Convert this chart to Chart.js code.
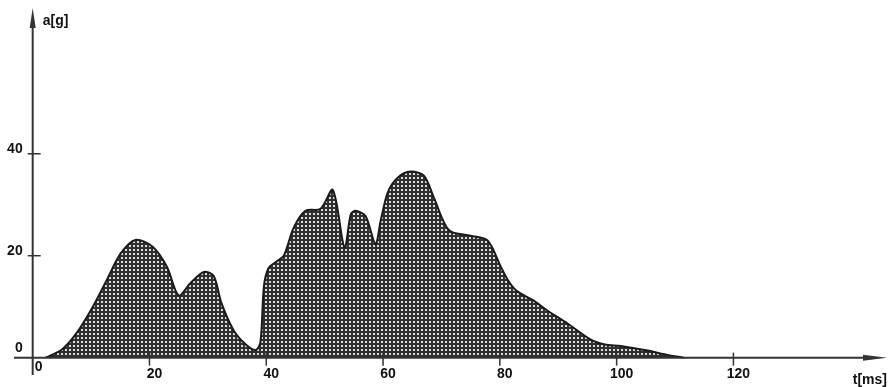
<!DOCTYPE html>
<html>
<head>
<meta charset="utf-8">
<script src="https://cdn.jsdelivr.net/npm/chart.js@4.4.0/dist/chart.umd.min.js"></script>
<style>
  html, body { margin: 0; padding: 0; background: #fff; }
  #wrap { width: 891px; height: 387px; }
</style>
</head>
<body>
<div id="wrap"><canvas id="chart"></canvas></div>
<script>
// ===== Data =====
const timeMs = [2.2, 5, 7.5, 10.4, 12.8, 15.1, 17.6, 20.5, 23, 25, 27, 29.3, 31, 32.3, 34.4, 36.5, 38.2,
  39.0, 39.6, 40.4, 41.8, 43, 44.7, 46.7, 49.3, 51.4, 53.4, 54.5, 55.3, 57, 58.7, 59.6, 60.8, 62.5, 64.7, 67,
  68.7, 71.3, 75, 77.9, 80.1, 81.5, 83, 85.8, 88.2, 91.6, 95.5, 98, 100.7, 105.3, 108.5, 111.5];
const accelG = [0, 1.6, 4.8, 10.2, 15.5, 20.5, 23.1, 21.8, 17.8, 12.2, 14.6, 16.8, 16, 10.8, 5.4, 2.6, 1.5,
  3, 14, 17.6, 18.9, 20, 25.5, 28.8, 29.2, 32.9, 21.6, 28.2, 28.8, 27.8, 22.3, 26.9, 32.4, 35.3, 36.5, 35.7,
  31.4, 25, 23.9, 23, 18, 15, 13, 11.2, 9.2, 6.7, 3.6, 2.6, 2.3, 1.4, 0.6, 0];
const xTicks = [20, 40, 60, 80, 100, 120];
const yTicks = [0, 20, 40];

const points = timeMs.map((t, i) => ({ x: t, y: accelG[i] }));

// ===== Crosshatch fill =====
function hatchPattern() {
  const c = document.createElement("canvas");
  c.width = 4; c.height = 4;
  const g = c.getContext("2d");
  g.fillStyle = "#303030";
  g.fillRect(0, 0, 4, 4);
  g.fillStyle = "#dcdcdc";
  g.fillRect(1, 1, 2, 2);
  return g.createPattern(c, "repeat");
}

const FONT = "bold 14px 'Liberation Sans', Arial, sans-serif";

// ===== Hand-drawn style axes =====
const axesPlugin = {
  id: "handAxes",
  afterDatasetsDraw(chart) {
    const { ctx, chartArea, scales: { x, y } } = chart;
    const x0 = x.getPixelForValue(0);
    const y0 = y.getPixelForValue(0);
    ctx.save();
    ctx.strokeStyle = "#333";
    ctx.fillStyle = "#333";
    ctx.lineWidth = 2;

    // x axis + arrow
    ctx.beginPath();
    ctx.moveTo(chartArea.left, y0);
    ctx.lineTo(chartArea.right - 20, y0);
    ctx.stroke();
    ctx.beginPath();
    ctx.moveTo(chartArea.right, y0);
    ctx.lineTo(chartArea.right - 24, y0 - 3);
    ctx.lineTo(chartArea.right - 24, y0 + 3);
    ctx.closePath();
    ctx.fill();

    // y axis + arrow
    ctx.beginPath();
    ctx.moveTo(x0, chartArea.bottom);
    ctx.lineTo(x0, chartArea.top + 14);
    ctx.stroke();
    ctx.beginPath();
    ctx.moveTo(x0, chartArea.top - 2);
    ctx.lineTo(x0 - 3, chartArea.top + 18);
    ctx.lineTo(x0 + 3, chartArea.top + 18);
    ctx.closePath();
    ctx.fill();

    ctx.lineWidth = 1.5;
    ctx.font = FONT;
    ctx.fillStyle = "#111";

    // x ticks and labels
    ctx.textAlign = "center";
    ctx.textBaseline = "middle";
    xTicks.forEach(v => {
      const px = x.getPixelForValue(v);
      ctx.beginPath();
      ctx.moveTo(px, y0 - 5);
      ctx.lineTo(px, y0 + 8);
      ctx.stroke();
      ctx.fillText(String(v), px + 5, y0 + 16);
    });
    ctx.fillText("0", x0 + 6, y0 + 9);

    // y ticks and labels
    ctx.textAlign = "right";
    yTicks.forEach(v => {
      const py = y.getPixelForValue(v);
      if (v !== 0) {
        ctx.beginPath();
        ctx.moveTo(x0 - 5, py);
        ctx.lineTo(x0 + 8, py);
        ctx.stroke();
      }
      ctx.fillText(String(v), x0 - 10, py - (v === 0 ? 10 : 5));
    });

    // axis titles
    ctx.textAlign = "left";
    ctx.fillText("a[g]", x0 + 10, chartArea.top + 11);
    ctx.textAlign = "right";
    ctx.fillText("t[ms]", chartArea.right, y0 + 22);
    ctx.restore();
  }
};

window.addEventListener("load", () => {
  const ctx = document.getElementById("chart");
  new Chart(ctx, {
    type: "line",
    data: {
      datasets: [{
        data: points,
        fill: "origin",
        backgroundColor: hatchPattern(),
        borderColor: "#1a1a1a",
        borderWidth: 2,
        pointRadius: 0,
        tension: 0.3,
      }]
    },
    options: {
      responsive: true,
      maintainAspectRatio: false,
      animation: false,
      layout: { padding: { left: 14, right: 4, top: 10, bottom: 12 } },
      plugins: { legend: { display: false }, tooltip: { enabled: false } },
      scales: {
        x: { type: "linear", min: -3.2, max: 146.3, display: false },
        y: { type: "linear", min: -3.4, max: 68.2, display: false }
      }
    },
    plugins: [axesPlugin]
  });
});
</script>
</body>
</html>
